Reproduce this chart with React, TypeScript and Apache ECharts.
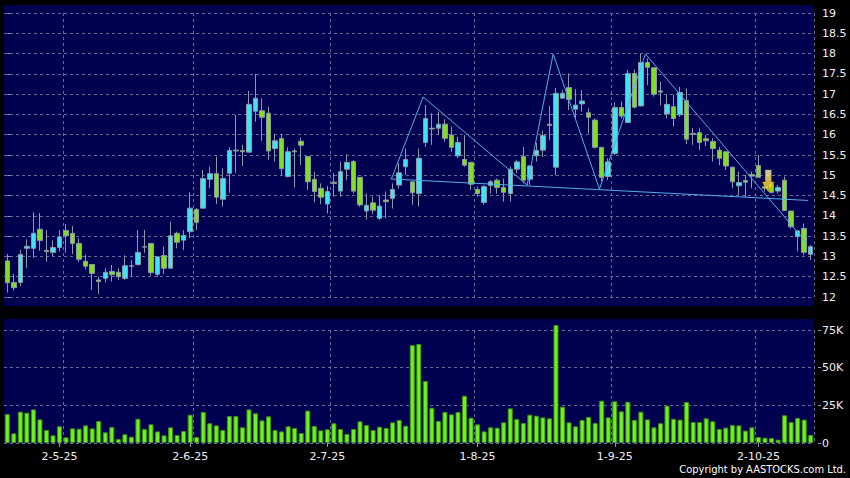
import React, { useEffect, useRef } from "react";
import * as echarts from "echarts";

// [open, close, low, high]
const candles: number[][] = [
  [12.89, 12.35, 12.11, 13.06], [12.36, 12.23, 12.16, 12.57], [12.36, 13.05, 12.27, 13.16], [13.2, 13.25, 12.71, 13.42],
  [13.2, 13.57, 12.97, 14.09], [13.67, 13.39, 13.14, 14.07], [13.15, 13.12, 12.87, 13.65], [13.1, 13.22, 13.01, 13.4],
  [13.22, 13.48, 13.12, 13.65], [13.64, 13.51, 13.09, 13.8], [13.57, 13.32, 13.06, 13.75], [13.32, 12.93, 12.86, 13.45],
  [12.88, 12.76, 12.68, 13.04], [12.8, 12.58, 12.17, 12.8], [12.42, 12.38, 12.07, 12.5], [12.46, 12.61, 12.36, 12.71],
  [12.63, 12.55, 12.38, 12.79], [12.61, 12.5, 12.42, 12.71], [12.46, 12.77, 12.42, 13.03], [12.77, 12.76, 12.5, 12.91],
  [12.8, 13.1, 12.77, 13.65], [13.24, 13.23, 13.09, 13.65], [13.32, 12.6, 12.53, 13.32], [12.56, 12.99, 12.5, 12.99],
  [13.02, 12.71, 12.57, 13.24], [12.71, 13.51, 12.71, 13.86], [13.57, 13.35, 13.2, 13.61], [13.4, 13.52, 13.16, 13.65],
  [13.61, 14.19, 13.45, 14.58], [14.16, 13.84, 13.65, 14.19], [14.19, 14.92, 14.19, 15.13], [14.9, 15.04, 14.68, 15.21],
  [15.04, 14.46, 14.29, 15.46], [14.41, 14.92, 14.23, 15.17], [15.05, 15.61, 14.57, 15.69], [15.62, 15.6, 15.06, 16.49],
  [15.61, 15.58, 15.23, 15.75], [15.57, 16.75, 15.57, 17.08], [16.58, 16.9, 16.32, 17.5], [16.59, 16.43, 15.85, 16.9],
  [16.53, 15.6, 15.38, 16.69], [15.66, 15.85, 15.34, 16.02], [15.91, 15.16, 15.0, 16.02], [14.97, 15.58, 14.95, 15.69],
  [15.6, 15.58, 14.7, 15.66], [15.84, 15.74, 15.25, 15.93], [15.46, 14.84, 14.64, 15.46], [14.9, 14.6, 14.33, 15.09],
  [14.68, 14.46, 14.29, 14.8], [14.29, 14.6, 14.06, 14.74], [14.83, 14.8, 14.47, 15.05], [14.61, 15.09, 14.47, 15.34],
  [15.15, 15.32, 14.88, 15.52], [15.34, 14.61, 14.55, 15.38], [14.95, 14.27, 14.23, 14.95], [14.12, 14.26, 13.91, 14.55],
  [14.32, 14.14, 14.05, 14.47], [13.94, 14.24, 13.9, 14.51], [14.39, 14.35, 13.94, 14.6], [14.43, 14.65, 14.18, 14.8],
  [14.76, 15.06, 14.68, 15.3], [15.21, 15.39, 15.01, 15.66], [14.84, 14.57, 14.27, 14.84], [14.55, 15.42, 14.23, 15.66],
  [15.81, 16.4, 15.7, 16.73], [16.16, 16.14, 15.75, 16.53], [16.16, 16.26, 15.99, 16.57], [16.26, 15.91, 15.83, 16.38],
  [15.99, 15.69, 15.58, 16.2], [15.48, 15.81, 15.42, 15.95], [15.39, 15.25, 15.21, 15.99], [15.32, 14.78, 14.64, 15.32],
  [14.65, 14.55, 14.47, 14.72], [14.33, 14.72, 14.27, 14.76], [14.75, 14.84, 14.55, 14.88], [14.88, 14.7, 14.55, 14.92],
  [14.7, 14.58, 14.35, 14.92], [14.55, 15.15, 14.35, 15.21], [15.15, 15.33, 15.05, 15.38], [15.46, 14.88, 14.8, 15.7],
  [14.9, 15.23, 14.76, 15.25], [15.48, 15.61, 15.34, 15.8], [15.62, 15.98, 15.45, 16.1], [16.26, 16.23, 15.87, 16.71],
  [15.2, 17.02, 15.0, 17.15], [16.9, 17.02, 16.88, 17.1], [17.16, 16.87, 16.61, 17.51], [16.63, 16.73, 16.4, 17.12],
  [16.76, 16.83, 16.57, 17.1], [16.54, 16.43, 16.03, 16.65], [16.36, 15.69, 15.66, 16.4], [15.69, 14.95, 14.84, 15.69],
  [14.97, 15.33, 14.88, 15.42], [15.54, 16.67, 15.5, 16.8], [16.67, 16.46, 16.4, 16.82], [16.3, 17.51, 16.3, 17.6],
  [17.51, 16.68, 16.65, 17.61], [16.71, 17.78, 16.7, 17.99], [17.78, 17.66, 17.22, 17.88], [17.65, 17.0, 16.94, 17.65],
  [17.08, 17.05, 16.73, 17.31], [16.51, 16.75, 16.4, 16.98], [16.69, 16.4, 16.2, 16.98], [16.49, 17.04, 16.44, 17.18],
  [16.84, 15.89, 15.77, 17.14], [16.03, 16.01, 15.75, 16.16], [16.05, 15.81, 15.62, 16.16], [15.9, 15.85, 15.72, 15.99],
  [15.83, 15.66, 15.34, 15.91], [15.62, 15.42, 15.25, 15.7], [15.58, 15.23, 15.13, 15.58], [15.2, 14.84, 14.68, 15.21],
  [14.74, 14.82, 14.51, 15.09], [14.87, 14.83, 14.47, 15.01], [15.02, 14.98, 14.68, 15.09], [15.24, 14.95, 14.95, 15.5],
  [14.72, 14.68, 14.6, 14.8], [14.78, 14.58, 14.55, 14.84], [14.61, 14.7, 14.55, 14.76], [14.88, 14.13, 14.13, 14.97],
  [14.12, 13.73, 13.69, 14.12], [13.49, 13.63, 13.12, 13.65], [13.69, 13.1, 13.03, 13.81], [13.05, 13.24, 12.91, 13.28],
];

// volume, thousands of shares
const volumesK: number[] = [
  19.2, 6.4, 20.8, 20.1, 22.3, 15.7, 8.6, 5.1, 11.1, 3.8,
  9.7, 9.5, 11.7, 9.7, 14.6, 7.1, 10.6, 2.7, 5.8, 4.2,
  16.1, 9.3, 12.4, 7.7, 5.1, 10.4, 5.3, 8.0, 18.8, 4.0,
  20.6, 13.1, 11.7, 8.6, 17.9, 17.9, 10.4, 22.3, 19.7, 15.0,
  17.7, 8.6, 7.7, 11.1, 10.0, 6.6, 21.5, 11.3, 8.4, 9.1,
  13.1, 9.3, 6.0, 9.3, 14.4, 11.9, 8.6, 10.8, 10.0, 13.7,
  15.3, 11.5, 65.0, 65.7,
  41.1, 23.4, 14.6, 20.6, 19.0, 20.6, 31.4, 16.8, 12.4, 7.7,
  10.4, 10.2, 13.7, 23.0, 15.9, 13.3, 18.8, 18.1, 17.0, 16.4,
  78.3, 24.1, 13.7, 11.1, 15.3, 17.3, 13.3, 28.1, 17.0, 27.7,
  21.0, 27.4, 15.3, 20.8, 15.7, 10.4, 13.1, 24.8, 16.1, 15.5,
  27.2, 13.9, 13.9, 16.4, 14.4, 9.3, 10.2, 11.9, 11.7, 8.2,
  10.4, 4.0, 3.5, 3.3, 2.2, 18.4, 13.9, 16.6, 15.5, 5.3,
];

// x-axis tick labels: [candle index, label]
const tickLabels: [number, string][] = [
  [8, "2-5-25"], [28, "2-6-25"], [49, "2-7-25"], [72, "1-8-25"], [93, "1-9-25"], [115, "2-10-25"],
];
// vertical grid lines (left boundary of these candle slots)
const gridLineSlots: number[] = [9, 29, 50, 72, 93, 115];

// trend lines: [candle index (fractional), price]
const neckline: number[][] = [[58.7, 14.91], [122.6, 14.38]];
const zigzag: number[][] = [
  [58.8, 14.91], [63.66, 16.93], [79.6, 14.76], [83.57, 17.99], [90.66, 14.66], [97.7, 17.99], [122.4, 13.33],
];
const arrowSignal: number[][] = [[116.5, 14.86]];

const priceAxis = { min: 12, max: 19, step: 0.5 };
const volumeAxis = { min: 0, max: 75, step: 25 };

const categories = candles.map((_, i) => String(i));

export default function App() {
  const ref = useRef<HTMLDivElement>(null);
  useEffect(() => {
    if (!ref.current) return;
    const chart = echarts.init(ref.current, undefined, { renderer: "svg" });
    const labelMap = new Map(tickLabels);
    const gridSet = new Set(gridLineSlots);
    const font = "DejaVu Sans";
    const dash = { color: "#6a6a9c", type: [3, 3] as any, width: 1 };
    const n = candles.length;
    chart.setOption({
      animation: false,
      backgroundColor: "#000000",
      graphic: [
        { type: "rect", z: -10, silent: true, shape: { x: 4, y: 5, width: 810, height: 301 }, style: { fill: "#000050" } },
        { type: "rect", z: -10, silent: true, shape: { x: 4, y: 319, width: 810, height: 125 }, style: { fill: "#000050" } },
        {
          type: "text", right: 4, top: 464, silent: true,
          style: { text: "Copyright by AASTOCKS.com Ltd.", fill: "#ffffff", font: `11px "DejaVu Sans Condensed", "${font}"` },
        },
      ],
      grid: [
        { left: 4, width: 810, top: 13, height: 284 },
        { left: 4, width: 810, top: 330, height: 113 },
      ],
      xAxis: [
        {
          type: "category", gridIndex: 0, data: categories,
          axisLine: { show: false }, axisTick: { show: false }, axisLabel: { show: false },
          splitLine: { show: true, interval: (i: number) => gridSet.has(i), lineStyle: dash },
        },
        {
          type: "category", gridIndex: 1, data: categories,
          axisLine: { show: false },
          axisTick: {
            show: true, alignWithLabel: true, length: 4, interval: (i: number) => labelMap.has(i),
            lineStyle: { color: "#9a9a9a" },
          },
          axisLabel: {
            show: true, interval: (i: number) => labelMap.has(i), formatter: (_v: string, i: number) => labelMap.get(i) || "",
            color: "#f0f0f0", fontSize: 11, fontFamily: font, margin: 8,
          },
          splitLine: { show: true, interval: (i: number) => gridSet.has(i), lineStyle: dash },
        },
        { type: "value", gridIndex: 0, min: -0.5, max: n - 0.5, show: false },
      ],
      yAxis: [
        {
          type: "value", gridIndex: 0, position: "right", offset: 4,
          min: priceAxis.min, max: priceAxis.max, interval: priceAxis.step,
          axisLine: { show: false },
          axisTick: { show: true, length: 3, lineStyle: { color: "#9a9a9a" } },
          axisLabel: { color: "#f0f0f0", fontSize: 11, fontFamily: font, margin: 4 },
          splitLine: { show: true, lineStyle: dash },
        },
        {
          type: "value", gridIndex: 1, position: "right", offset: 4,
          min: volumeAxis.min, max: volumeAxis.max, interval: volumeAxis.step,
          axisLine: { show: false },
          axisTick: { show: true, length: 3, lineStyle: { color: "#9a9a9a" } },
          axisLabel: {
            color: "#f0f0f0", fontSize: 11, fontFamily: font, margin: 4,
            formatter: (v: number) => (v === 0 ? "0" : `${v}K`),
          },
          splitLine: { show: true, lineStyle: dash },
        },
      ],
      series: [
        {
          type: "candlestick", xAxisIndex: 0, yAxisIndex: 0, data: candles, barWidth: 5,
          itemStyle: {
            color: "#3fe4f4", color0: "#7fe022", borderColor: "#8a9aa6", borderColor0: "#8a9aa6", borderWidth: 1,
          },
        },
        {
          type: "bar", xAxisIndex: 1, yAxisIndex: 1, data: volumesK, barWidth: 5, clip: false,
          itemStyle: { color: "#6cf21c", borderColor: "#3e9214", borderWidth: 1 },
        },
        {
          type: "line", xAxisIndex: 2, yAxisIndex: 0, data: neckline, symbol: "none",
          lineStyle: { color: "#52b0e6", width: 1 },
        },
        {
          type: "line", xAxisIndex: 2, yAxisIndex: 0, data: zigzag, symbol: "none",
          lineStyle: { color: "#52b0e6", width: 1 },
        },
        {
          type: "scatter", xAxisIndex: 2, yAxisIndex: 0, data: arrowSignal, z: 5,
          symbol: "path://M3,0L9,0L9,12L12,12L6,22L0,12L3,12Z", symbolSize: [12, 22],
          itemStyle: {
            color: new echarts.graphic.LinearGradient(0, 0, 0, 1, [
              { offset: 0, color: "#fffbc8" }, { offset: 0.45, color: "#ffe84a" }, { offset: 1, color: "#f7c000" },
            ]),
            borderColor: "#d09a00", borderWidth: 0.5,
          },
        },
      ],
    });
    return () => chart.dispose();
  }, []);
  return <div ref={ref} style={{ position: "fixed", left: 0, top: 0, width: 850, height: 478, background: "#000" }} />;
}
